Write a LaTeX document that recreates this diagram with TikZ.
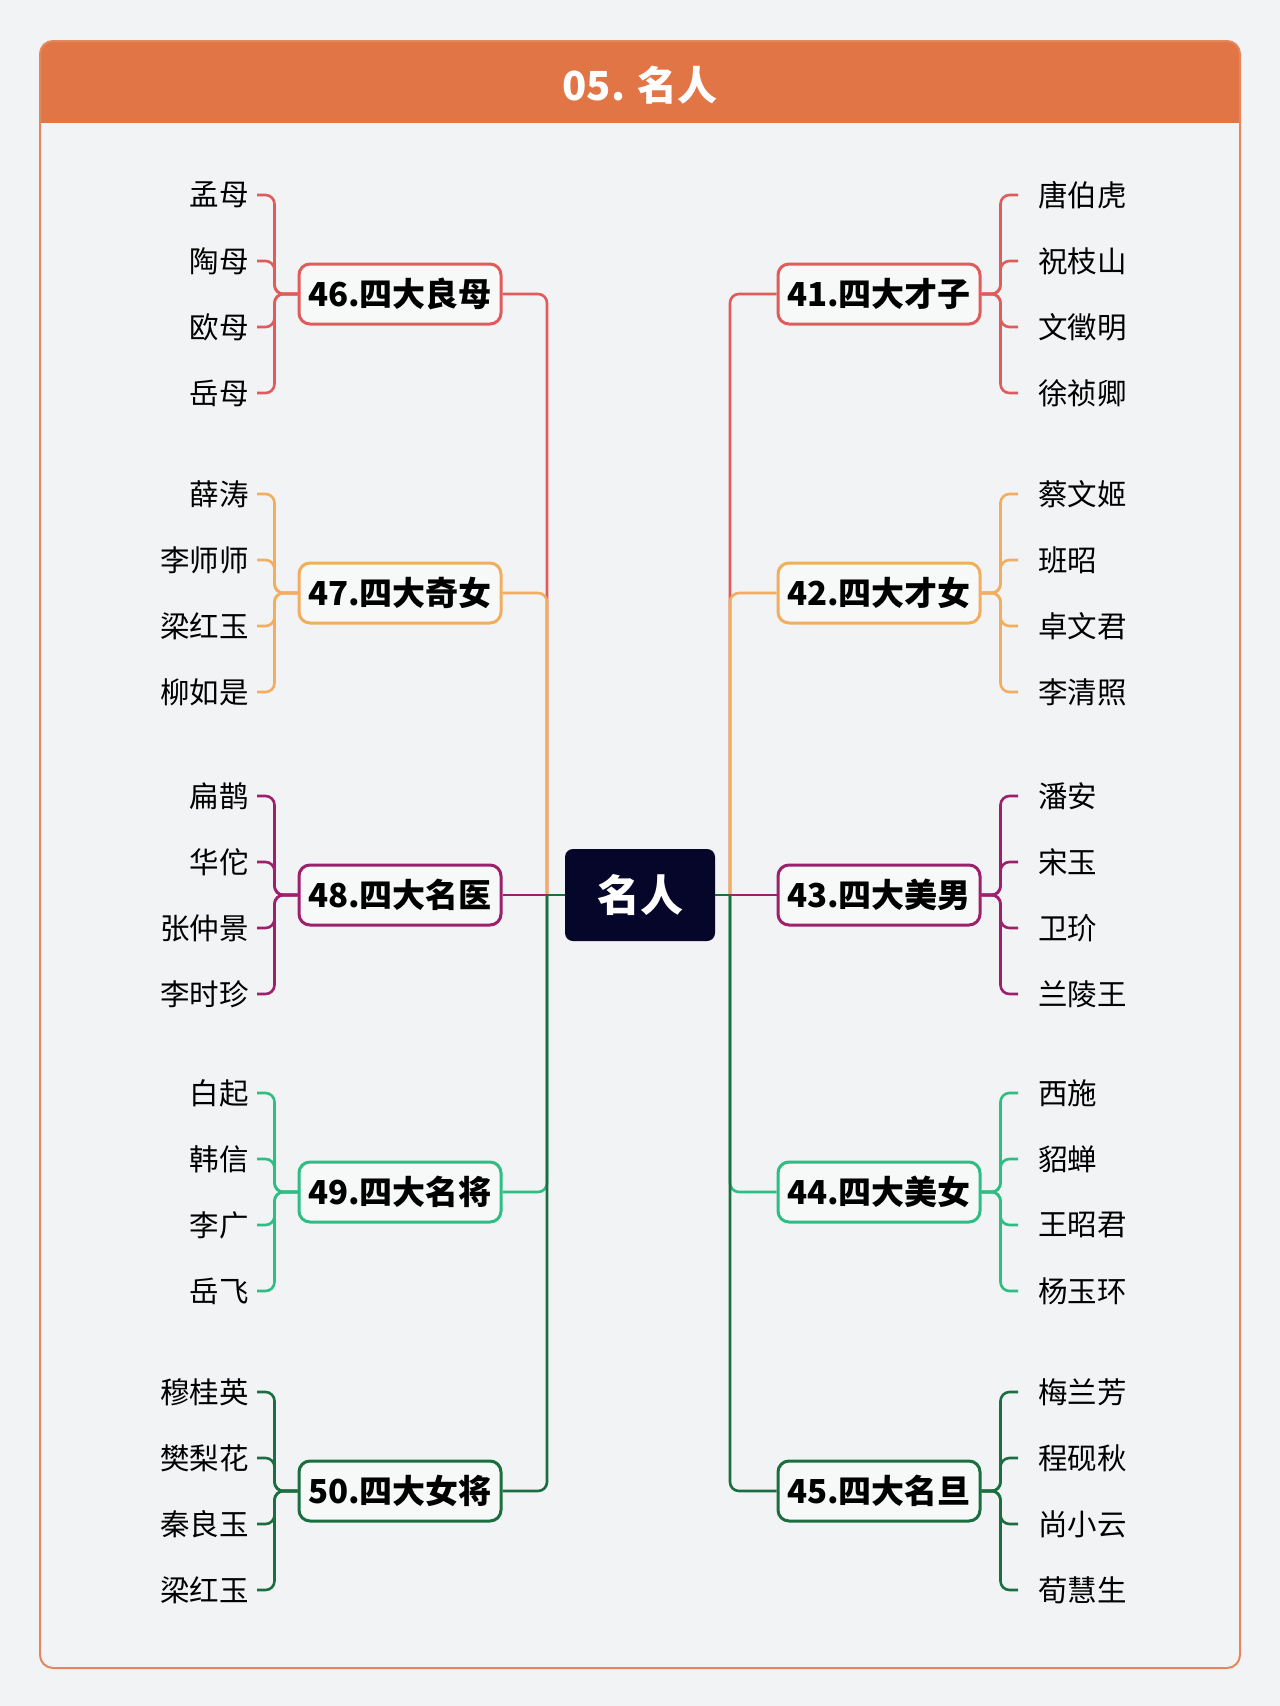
\documentclass[tikz,border=0pt]{standalone}
\usepackage{fontspec}
\setmainfont{Noto Sans CJK SC}
\definecolor{bg}{HTML}{F1F3F4}
\definecolor{hdr}{HTML}{E27545}
\definecolor{framec}{HTML}{E4875C}
\definecolor{navy}{HTML}{05062A}
\definecolor{boxfill}{HTML}{F7F8F8}
\definecolor{cA}{HTML}{E05C5C}
\definecolor{cB}{HTML}{F2AE5E}
\definecolor{cC}{HTML}{9E1F6B}
\definecolor{cD}{HTML}{2DBE84}
\definecolor{cE}{HTML}{1B6E40}
\tikzset{
  branch/.style={rounded corners=11, line width=3pt, fill=boxfill, minimum width=202pt,
    minimum height=60pt, inner sep=0pt, text=black,
    font=\bfseries\fontsize{33}{40}\selectfont},
  leafL/.style={anchor=east, inner sep=0pt, text=black, font=\fontsize{29.5}{34}\selectfont},
  leafR/.style={anchor=west, inner sep=0pt, text=black, font=\fontsize{29.5}{34}\selectfont},
  conn/.style={line width=2.6pt, rounded corners=9}
}
\newcommand\leftgroup[8]{%
  \node[branch, draw=#2] (b#1) at (400,#3) {#4};
  \node[leafL] (l#1a) at (249,#3-99) {#5};
  \node[leafL] (l#1b) at (249,#3-33) {#6};
  \node[leafL] (l#1c) at (249,#3+33) {#7};
  \node[leafL] (l#1d) at (249,#3+99) {#8};
  \foreach \s in {a,b,c,d}{\draw[conn, #2] (b#1.west) -- ++(-23,0) |- ([xshift=8pt]l#1\s.east);}
}
\newcommand\rightgroup[8]{%
  \node[branch, draw=#2] (b#1) at (879,#3) {#4};
  \node[leafR] (l#1a) at (1038,#3-99) {#5};
  \node[leafR] (l#1b) at (1038,#3-33) {#6};
  \node[leafR] (l#1c) at (1038,#3+33) {#7};
  \node[leafR] (l#1d) at (1038,#3+99) {#8};
  \foreach \s in {a,b,c,d}{\draw[conn, #2] (b#1.east) -- ++(19,0) |- ([xshift=-20pt]l#1\s.west);}
}
\begin{document}
\begin{tikzpicture}[x=1pt,y=-1pt]
\useasboundingbox (0,0) rectangle (1280,1706);
\fill[bg] (0,0) rectangle (1280,1706);
% frame and header
\begin{scope}
  \clip[rounded corners=13] (40,41) rectangle (1240,1668);
  \fill[bg] (40,41) rectangle (1240,1668);
  \fill[hdr] (40,41) rectangle (1240,123);
\end{scope}
\draw[framec, line width=2pt, rounded corners=13] (40,41) rectangle (1240,1668);
\node[text=white, font=\bfseries\fontsize{40}{44}\selectfont] (title) at (640,85) {05. 名人};

% center
\node[fill=navy, rounded corners=8, minimum width=150pt, minimum height=92pt, inner sep=0pt,
  text=white, font=\bfseries\fontsize{43}{48}\selectfont] (c) at (640,895) {名人};
\coordinate (lj) at (547,895);
\coordinate (rj) at (730,895);

% groups
\leftgroup{46}{cA}{294}{46.四大良母}{孟母}{陶母}{欧母}{岳母}
\leftgroup{47}{cB}{593}{47.四大奇女}{薛涛}{李师师}{梁红玉}{柳如是}
\leftgroup{48}{cC}{895}{48.四大名医}{扁鹊}{华佗}{张仲景}{李时珍}
\leftgroup{49}{cD}{1192}{49.四大名将}{白起}{韩信}{李广}{岳飞}
\leftgroup{50}{cE}{1491}{50.四大女将}{穆桂英}{樊梨花}{秦良玉}{梁红玉}
\rightgroup{41}{cA}{294}{41.四大才子}{唐伯虎}{祝枝山}{文徵明}{徐祯卿}
\rightgroup{42}{cB}{593}{42.四大才女}{蔡文姬}{班昭}{卓文君}{李清照}
\rightgroup{43}{cC}{895}{43.四大美男}{潘安}{宋玉}{卫玠}{兰陵王}
\rightgroup{44}{cD}{1192}{44.四大美女}{西施}{貂蝉}{王昭君}{杨玉环}
\rightgroup{45}{cE}{1491}{45.四大名旦}{梅兰芳}{程砚秋}{尚小云}{荀慧生}

% spines
\draw[conn, cA] (lj) |- (b46.east);
\draw[conn, cB] (lj) |- (b47.east);
\draw[conn, cC] (lj) -- (b48.east);
\draw[conn, cD] (lj) |- (b49.east);
\draw[conn, cE] (lj) |- (b50.east);
\draw[conn, cE] (c.west) -- (lj);
\draw[conn, cA] (rj) |- (b41.west);
\draw[conn, cB] (rj) |- (b42.west);
\draw[conn, cC] (rj) -- (b43.west);
\draw[conn, cD] (rj) |- (b44.west);
\draw[conn, cE] (rj) |- (b45.west);
\draw[conn, cE] (c.east) -- (rj);
\end{tikzpicture}
\end{document}
